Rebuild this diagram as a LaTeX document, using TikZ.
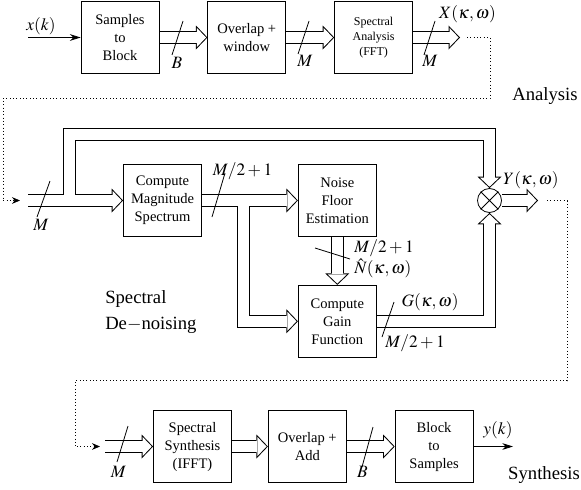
\documentclass[tikz,border=0pt]{standalone}
\usepackage{mathptmx}
\usepackage{fontspec}
\setmainfont{Liberation Serif}
\usetikzlibrary{arrows.meta,positioning,backgrounds}

% wide buses: stroked twice, all outlines first and then all insides
\newcommand{\busroutes}[1]{%
  \draw[#1,->] (s2b) -- (ovl);
  \draw[#1,->] (ovl) -- (fft);
  \draw[#1,->] (fft) -- (xo);
  \draw[#1,->] (min) -- (mag);
  \draw[#1,->] (inbr) -- ++(0,-66) -| (mul);
  \draw[#1,->] (mag) -- (noise);
  \draw[#1,->] (magbr) |- (gain);
  \draw[#1,->] (noise) -- (gain);
  \draw[#1,->] (gain) -| (mul);
  \draw[#1,->] (mul) -- (yo);
  \draw[#1,->] (sin) -- (syn);
  \draw[#1,->] (syn) -- (oa);
  \draw[#1,->] (oa) -- (b2s);
}

\begin{document}
\begin{tikzpicture}[
    x=0.75pt, y=-0.75pt,
    node distance=36pt and 36pt,
    box/.style={draw, line width=0.6pt, align=center, minimum width=58.5pt, minimum height=54pt, inner sep=1pt, font=\fontsize{10.9}{13.5}\selectfont},
    smallbox/.style={box, font=\fontsize{9}{11.25}\selectfont},
    mult/.style={draw, circle, line width=0.6pt, minimum size=18pt, inner sep=0pt},
    busout/.style={line width=9.75pt, black, >={Triangle[length=8.6pt, width=18pt, line width=0pt]}},
    busin/.style={line width=8.25pt, white, shorten >=1.04pt, >={Triangle[length=6.81pt, width=14.26pt, line width=0pt]}},
    sig/.style={line width=0.6pt, -{Stealth[length=8pt, width=5pt, inset=2.5pt]}},
    link/.style={dotted, line width=0.5pt, -{Stealth[length=6pt, width=5pt]}},
    tick/.style={line width=0.6pt},
    lab/.style={inner sep=0pt, font=\fontsize{13}{15}\selectfont},
    part/.style={inner sep=0pt, align=left, font=\fontsize{14}{19.5}\selectfont}
  ]
  \useasboundingbox (0,0) rectangle (581,489);

  % analysis
  \node[box] (s2b) at (120,37.5) {Samples\\to\\Block};
  \node[box, right=of s2b] (ovl) {Overlap +\\window};
  \node[smallbox, right=of ovl] (fft) {Spectral\\Analysis\\(FFT)};
  \coordinate (xin) at (28,37.5);
  \coordinate (xo) at (460,37.5);

  % de-noising
  \coordinate (min) at (28,200.5);
  \coordinate (inbr) at (69.5,200.5);
  \node[box] (mag) at (162.5,200.5) {Compute\\Magnitude\\Spectrum};
  \node[box, right=72pt of mag] (noise) {Noise\\Floor\\Estimation};
  \node[box, below=of noise] (gain) {Compute\\Gain\\Function};
  \coordinate (magbr) at (243.5,200.5);
  \node[mult] (mul) at (489.5,200.5) {};
  \draw[line width=0.6pt] (mul.45) -- (mul.225) (mul.135) -- (mul.315);
  \coordinate (yo) at (538,200.5);

  % synthesis
  \coordinate (sin) at (105,446.5);
  \node[box] (syn) at (192.5,446.5) {Spectral\\Synthesis\\(IFFT)};
  \node[box, right=27pt of syn] (oa) {Overlap +\\Add};
  \node[box, right=of oa] (b2s) {Block\\to\\Samples};
  \coordinate (yout) at (513,446.5);

  \begin{pgfonlayer}{background}
    \busroutes{busout}
    \busroutes{busin}
  \end{pgfonlayer}

  \draw[sig] (xin) -- (s2b);
  \draw[sig] (b2s) -- (yout);
  \draw[link] ([xshift=5.25pt]xo) -- ++(23,0) -- ++(0,60.5) -| (3,200.5) -- ([xshift=-6pt]min);
  \draw[link] ([xshift=6.75pt]yo) -- ++(20,0) -- ++(0,180) -| (75,446.5) -- ([xshift=-3.75pt]sin);

  % bus widths and signal names
  \node[lab] (lx) at (41,26) {$x(k)$};
  \draw[tick] (172,55) -- (183,21);
  \node[lab] (lb1) at (177,62.5) {$B$};
  \draw[tick] (298,54) -- (309,21);
  \node[lab] (lm1) at (305,61) {$M$};
  \draw[tick] (424,55) -- (435,21);
  \node[lab] (lm2) at (430,61) {$M$};
  \node[lab] (lX) at (467.5,14.5) {$X(\kappa,\omega)$};

  \draw[tick] (37,217) -- (50,181);
  \node[lab] (lm3) at (41,225) {$M$};
  \draw[tick] (212,217) -- (225,173);
  \node[lab] (lm4) at (242.5,171) {$M/2+1$};
  \draw[tick] (315,248) -- (350,259);
  \node[lab, anchor=west, align=left, font={\fontsize{13}{15.5}\selectfont\lineskiplimit=-\maxdimen}] (lN) at (354,259) {$M/2+1$\\$\hat{N}(\kappa,\omega)$};
  \draw[tick] (382,337) -- (394,302);
  \node[lab] (lG) at (430,302) {$G(\kappa,\omega)$};
  \node[lab] (lm6) at (415,343) {$M/2+1$};
  \node[lab] (lY) at (531,180) {$Y(\kappa,\omega)$};

  \draw[tick] (117,462) -- (128,426);
  \node[lab] (lm7) at (118.5,471.5) {$M$};
  \draw[tick] (362,467) -- (373,427);
  \node[lab] (lb2) at (362.5,471.5) {$B$};
  \node[lab] (ly) at (498,430) {$y(k)$};

  % section names
  \node[part] (an) at (545,96) {Analysis};
  \node[part, anchor=west] (dn) at (105,312) {Spectral\\De$-$noising};
  \node[part] (sy) at (544,475) {Synthesis};
\end{tikzpicture}
\end{document}
